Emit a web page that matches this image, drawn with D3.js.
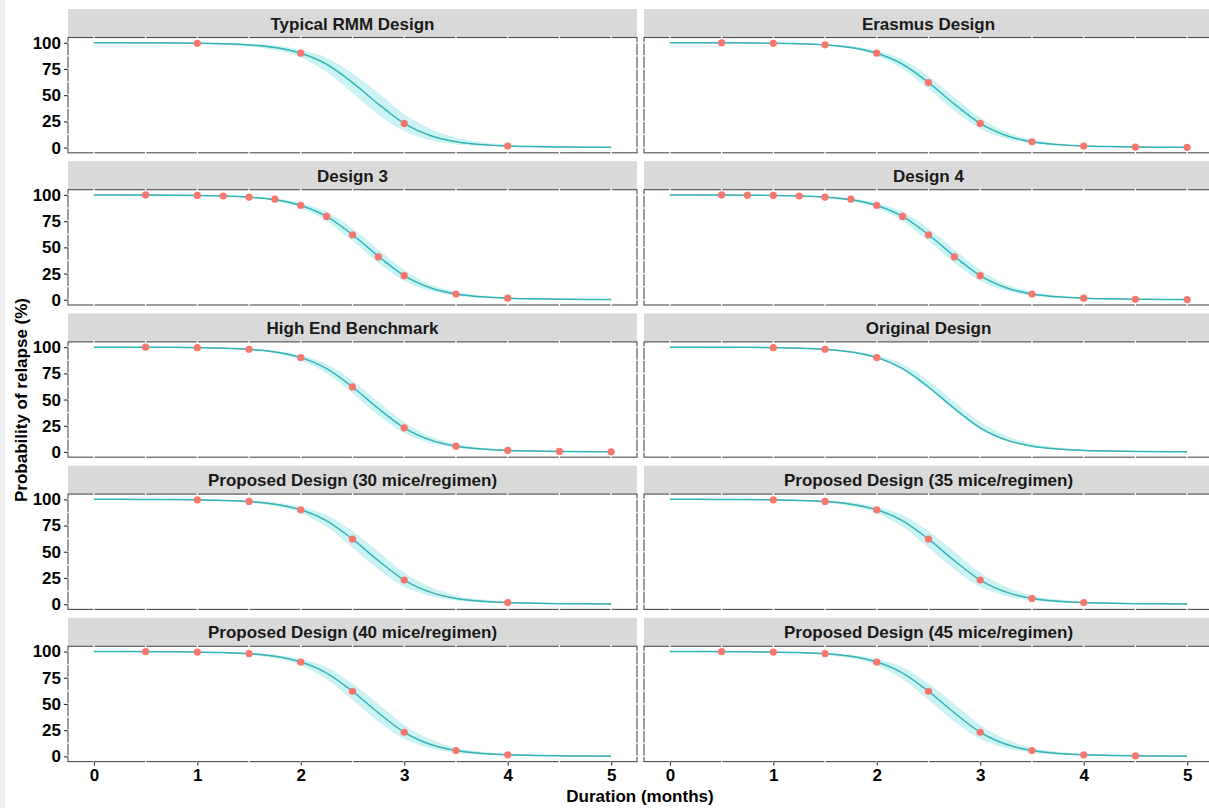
<!DOCTYPE html>
<html>
<head>
<meta charset="utf-8">
<script src="https://cdn.jsdelivr.net/npm/d3@7"></script>
<style>
  html, body { margin: 0; padding: 0; background: #ffffff; }
  svg { display: block; font-family: "Liberation Sans", Arial, Helvetica, sans-serif; }
</style>
</head>
<body>
<svg id="chart" width="1209" height="808"></svg>
<script>
// Duration grid (months) for the fitted relapse curve and its confidence band
const months = [0, 0.25, 0.5, 0.75, 1, 1.25, 1.5, 1.75, 2, 2.25, 2.5, 2.75, 3, 3.25, 3.5, 3.75, 4, 4.25, 4.5, 4.75, 5];

// Fitted probability of relapse (%)
const fitted = [100, 100, 99.9, 99.8, 99.5, 99.0, 97.9, 95.4, 90.0, 79.5, 62.0, 41.5, 23.0, 11.5, 5.5, 2.8, 1.5, 0.9, 0.5, 0.3, 0.2];

// Confidence bands (lower / upper, %)
const wideLower = [100, 100, 99.8, 99.6, 99.1, 98.2, 96.4, 92.8, 86.0, 72.0, 52.0, 31.5, 15.5, 7.0, 3.0, 1.4, 0.7, 0.4, 0.2, 0.1, 0.05];
const wideUpper = [100, 100, 100, 99.9, 99.8, 99.5, 98.9, 97.3, 93.3, 85.8, 71.0, 52.0, 32.0, 18.0, 9.5, 5.0, 2.8, 1.6, 1.0, 0.6, 0.4];

const narrowLower = [100, 100, 99.9, 99.7, 99.3, 98.6, 97.2, 94.2, 87.5, 75.0, 56.0, 35.0, 18.0, 8.5, 3.9, 1.9, 0.9, 0.5, 0.3, 0.15, 0.1];
const narrowUpper = [100, 100, 100, 99.9, 99.7, 99.3, 98.5, 96.6, 92.3, 84.0, 68.0, 48.0, 28.5, 15.0, 7.6, 4.0, 2.3, 1.4, 0.9, 0.5, 0.35];

const midLower = [100, 100, 99.9, 99.7, 99.2, 98.4, 96.8, 93.5, 86.8, 73.5, 54.0, 33.0, 16.5, 7.8, 3.5, 1.7, 0.8, 0.45, 0.25, 0.12, 0.08];
const midUpper = [100, 100, 100, 99.9, 99.8, 99.4, 98.7, 97.0, 92.8, 85.0, 69.5, 50.0, 30.0, 16.5, 8.3, 4.4, 2.5, 1.5, 0.95, 0.55, 0.38];

const originalLower = [100, 100, 99.9, 99.8, 99.4, 98.9, 97.7, 95.0, 89.2, 78.0, 60.0, 39.5, 21.5, 10.5, 5.0, 2.5, 1.3, 0.8, 0.45, 0.25, 0.15];
const originalUpper = [100, 100, 100, 99.9, 99.7, 99.3, 98.5, 96.5, 92.2, 84.0, 68.0, 48.0, 28.5, 15.5, 8.0, 4.2, 2.4, 1.4, 0.9, 0.5, 0.35];

// Observed relapse proportions at each sampled duration: [months, %]
const typicalPoints  = [[1, 99.5], [2, 90], [3, 23], [4, 1.5]];
const erasmusPoints  = [[0.5, 100], [1, 99.5], [1.5, 98], [2, 90], [2.5, 62], [3, 23], [3.5, 5.5], [4, 1.5], [4.5, 0.5], [5, 0.2]];
const design3Points  = [[0.5, 100], [1, 99.5], [1.25, 99], [1.5, 98], [1.75, 96], [2, 90], [2.25, 79.5], [2.5, 62], [2.75, 41], [3, 23], [3.5, 5.5], [4, 1.5]];
const design4Points  = [[0.5, 100], [0.75, 99.8], [1, 99.5], [1.25, 99], [1.5, 98], [1.75, 96], [2, 90], [2.25, 79.5], [2.5, 62], [2.75, 41], [3, 23], [3.5, 5.5], [4, 1.5], [4.5, 0.5], [5, 0.2]];
const highEndPoints  = [[0.5, 100], [1, 99.5], [1.5, 98], [2, 90], [2.5, 62], [3, 23], [3.5, 5.5], [4, 1.5], [4.5, 0.5], [5, 0.2]];
const originalPoints = [[1, 99.5], [1.5, 98], [2, 90]];
const p30Points      = [[1, 99.5], [1.5, 98], [2, 90], [2.5, 62], [3, 23], [4, 1.5]];
const p35Points      = [[1, 99.5], [1.5, 98], [2, 90], [2.5, 62], [3, 23], [3.5, 5.5], [4, 1.5]];
const p40Points      = [[0.5, 100], [1, 99.5], [1.5, 98], [2, 90], [2.5, 62], [3, 23], [3.5, 5.5], [4, 1.5]];
const p45Points      = [[0.5, 100], [1, 99.5], [1.5, 98], [2, 90], [2.5, 62], [3, 23], [3.5, 5.5], [4, 1.5], [4.5, 0.5]];

// Facet titles, in reading order (two per row)
const designTitles = [
  "Typical RMM Design", "Erasmus Design",
  "Design 3", "Design 4",
  "High End Benchmark", "Original Design",
  "Proposed Design (30 mice/regimen)", "Proposed Design (35 mice/regimen)",
  "Proposed Design (40 mice/regimen)", "Proposed Design (45 mice/regimen)"
];
const designPoints = [typicalPoints, erasmusPoints, design3Points, design4Points, highEndPoints,
                      originalPoints, p30Points, p35Points, p40Points, p45Points];
const designLower = [wideLower, narrowLower, narrowLower, narrowLower, narrowLower,
                     originalLower, midLower, midLower, midLower, midLower];
const designUpper = [wideUpper, narrowUpper, narrowUpper, narrowUpper, narrowUpper,
                     originalUpper, midUpper, midUpper, midUpper, midUpper];

const xTicks = [0, 1, 2, 3, 4, 5];
const yTicks = [0, 25, 50, 75, 100];

// ---- layout ----
const svg = d3.select("#chart");
const colX = [[68, 637], [644, 1213]];
const rowTop0 = 9, rowPitch = 152.2, stripH = 28.5, panelH = 115.3;
const lineColor = "#00BFC4", pointColor = "#F8766D", frameColor = "#4d4d4d";
const fontSize = 17;

svg.append("defs").append("clipPath").attr("id", "page")
  .append("rect").attr("x", 0).attr("y", 0).attr("width", 1209).attr("height", 808);

// faint grey margin along the left edge
svg.append("rect").attr("x", 0).attr("y", 0).attr("width", 5).attr("height", 808).attr("fill", "#efefef");

const root = svg.append("g").attr("clip-path", "url(#page)");

designTitles.forEach((title, i) => {
  const col = i % 2, row = Math.floor(i / 2);
  const [x0, x1] = colX[col];
  const stripTop = rowTop0 + row * rowPitch;
  const pTop = stripTop + stripH;
  const pBot = pTop + panelH;

  const x = d3.scaleLinear().domain([-0.25, 5.25]).range([x0, x1]);
  const y = d3.scaleLinear().domain([-5, 105]).range([pBot, pTop]);

  const g = root.append("g");

  // strip
  g.append("rect").attr("x", x0).attr("y", stripTop).attr("width", x1 - x0).attr("height", stripH)
    .attr("fill", "#D9D9D9");
  g.append("text").attr("x", (x0 + x1) / 2).attr("y", stripTop + 20.6)
    .attr("text-anchor", "middle").attr("font-size", fontSize).attr("font-weight", "bold")
    .attr("fill", "#1a1a1a").text(title);

  // panel background
  g.append("rect").attr("x", x0).attr("y", pTop).attr("width", x1 - x0).attr("height", panelH)
    .attr("fill", "#ffffff");

  const lo = designLower[i], hi = designUpper[i];
  const band = months.map((m, k) => ({ m, lo: lo[k], hi: hi[k], fit: fitted[k] }));

  g.append("path").datum(band)
    .attr("d", d3.area().x(d => x(d.m)).y0(d => y(d.lo)).y1(d => y(d.hi)).curve(d3.curveMonotoneX))
    .attr("fill", lineColor).attr("fill-opacity", 0.2);

  const fitLine = d3.line().x(d => x(d.m)).y(d => y(d.fit)).curve(d3.curveMonotoneX);
  g.append("path").datum(band).attr("d", fitLine)
    .attr("fill", "none").attr("stroke", pointColor).attr("stroke-width", 1);
  g.append("path").datum(band).attr("d", fitLine)
    .attr("fill", "none").attr("stroke", lineColor).attr("stroke-width", 1.5).attr("stroke-opacity", 0.8);

  g.selectAll("circle.obs").data(designPoints[i]).join("circle")
    .attr("class", "obs")
    .attr("cx", d => x(d[0])).attr("cy", d => y(d[1])).attr("r", 3.6)
    .attr("fill", pointColor);

  // frame
  g.append("rect").attr("x", x0).attr("y", pTop).attr("width", x1 - x0).attr("height", panelH)
    .attr("fill", "none").attr("stroke", frameColor).attr("stroke-width", 1.1);

  // white grid breaks across the frame
  d3.range(0, 5.01, 0.5).forEach(m => {
    [pTop, pBot].forEach(yy => {
      g.append("line").attr("x1", x(m)).attr("x2", x(m)).attr("y1", yy - 1.2).attr("y2", yy + 1.2)
        .attr("stroke", "#ffffff").attr("stroke-width", 1.3);
    });
  });
  d3.range(0, 100.1, 12.5).forEach(v => {
    [x0, x1].forEach(xx => {
      g.append("line").attr("x1", xx - 1.2).attr("x2", xx + 1.2).attr("y1", y(v)).attr("y2", y(v))
        .attr("stroke", "#ffffff").attr("stroke-width", 1.3);
    });
  });

  // y axis on left column
  if (col === 0) {
    const ya = d3.axisLeft(y).tickValues(yTicks).tickSize(4).tickPadding(3);
    const ag = g.append("g").attr("transform", `translate(${x0},0)`).call(ya);
    ag.select(".domain").remove();
    ag.selectAll(".tick line").attr("stroke", "#333333").attr("stroke-width", 1.1);
    ag.selectAll(".tick text").attr("font-size", fontSize).attr("font-weight", "bold")
      .attr("fill", "#000000").attr("font-family", null);
  }
  // x axis on bottom row
  if (row === 4) {
    const xa = d3.axisBottom(x).tickValues(xTicks).tickSize(4).tickPadding(3).tickFormat(d3.format("d"));
    const ag = g.append("g").attr("transform", `translate(0,${pBot})`).call(xa);
    ag.select(".domain").remove();
    ag.selectAll(".tick line").attr("stroke", "#333333").attr("stroke-width", 1.1);
    ag.selectAll(".tick text").attr("font-size", fontSize).attr("font-weight", "bold")
      .attr("fill", "#000000").attr("font-family", null);
  }
});

// axis titles
svg.append("text").attr("x", 640).attr("y", 802).attr("text-anchor", "middle")
  .attr("font-size", fontSize).attr("font-weight", "bold").attr("fill", "#000")
  .text("Duration (months)");
svg.append("text").attr("transform", "translate(27,400) rotate(-90)").attr("text-anchor", "middle")
  .attr("font-size", fontSize).attr("font-weight", "bold").attr("fill", "#000")
  .text("Probability of relapse (%)");
</script>
</body>
</html>
